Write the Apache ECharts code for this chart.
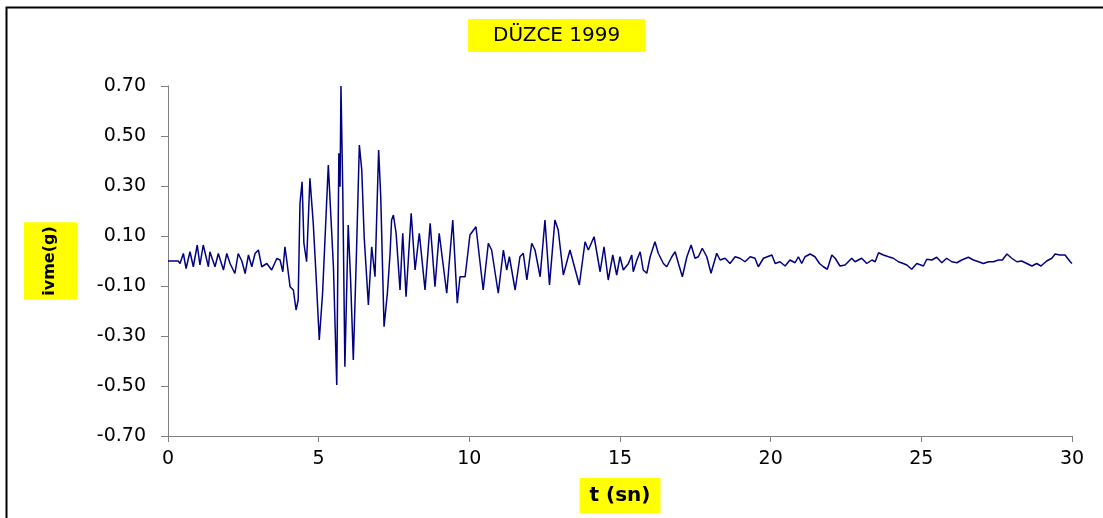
<!DOCTYPE html>
<html>
<head>
<meta charset="utf-8">
<script src="https://cdn.jsdelivr.net/npm/echarts@6/dist/echarts.min.js"></script>
<style>
  html, body { margin: 0; padding: 0; background: #fff; }
  #main { width: 1103px; height: 518px; }
</style>
</head>
<body>
<div id="main"></div>
<script>
// zaman (sn)
var times = [
  0.00, 0.34, 0.40, 0.51, 0.60, 0.73, 0.84, 0.97, 1.06, 1.17, 1.34, 1.39, 1.56, 1.67, 1.84, 1.95,
  2.06, 2.22, 2.33, 2.45, 2.56, 2.67, 2.78, 2.89, 3.00, 3.11, 3.28, 3.44, 3.61,
  3.72, 3.81, 3.88, 3.94, 4.05, 4.16, 4.25, 4.32, 4.38, 4.45, 4.51, 4.60, 4.71, 4.82, 4.91,
  5.02, 5.13, 5.32, 5.40, 5.49, 5.60, 5.67, 5.71, 5.74, 5.80, 5.87, 5.98, 6.06, 6.15, 6.26,
  6.35, 6.43, 6.51, 6.65, 6.76, 6.87, 6.99, 7.06, 7.17, 7.28, 7.37,
  7.42, 7.48, 7.57, 7.70, 7.79, 7.90, 8.07, 8.20, 8.34, 8.53, 8.70, 8.86, 9.00, 9.25, 9.45,
  9.60, 9.69, 9.86, 10.02, 10.22, 10.46, 10.63, 10.74, 10.96,
  11.13, 11.24, 11.33, 11.52, 11.68, 11.79, 11.91, 12.07, 12.18, 12.35, 12.51, 12.66, 12.84,
  12.95, 13.12, 13.34, 13.65, 13.84, 13.95, 14.14, 14.34, 14.47, 14.61, 14.76, 14.89, 15.00, 15.11,
  15.28, 15.39, 15.44, 15.56, 15.67, 15.77, 15.89, 16.00, 16.16, 16.27, 16.44, 16.55, 16.72,
  16.83, 16.94, 17.07, 17.22, 17.36, 17.49, 17.60, 17.73, 17.88, 18.02, 18.21, 18.32, 18.49,
  18.65, 18.82, 18.98, 19.15, 19.32, 19.48, 19.59, 19.76, 20.04,
  20.15, 20.31, 20.48, 20.64, 20.81, 20.92, 21.03, 21.14, 21.31, 21.47, 21.62, 21.75, 21.88,
  22.03, 22.14, 22.30, 22.47, 22.69, 22.80, 22.91, 23.02, 23.19, 23.36, 23.47, 23.58, 23.74,
  23.91, 24.07, 24.24, 24.40, 24.52, 24.68, 24.85,
  25.07, 25.18, 25.35, 25.51, 25.68, 25.84, 26.01, 26.18, 26.34, 26.56, 26.73, 26.90, 27.06,
  27.23, 27.39, 27.56, 27.69, 27.84, 28.00, 28.17, 28.33, 28.50, 28.67, 28.83, 28.97, 29.16,
  29.33, 29.44, 29.60, 29.77, 29.94, 30.00
];

// ivme (g)
var ivme = [
  0.000, 0.000, -0.010, 0.030, -0.030, 0.037, -0.023, 0.064, -0.016, 0.064, -0.023, 0.037, -0.023, 0.030, -0.036, 0.030,
  -0.010, -0.050, 0.030, 0.000, -0.050, 0.024, -0.023, 0.030, 0.044, -0.023, -0.010, -0.036, 0.010,
  0.004, -0.043, 0.057, 0.004, -0.103, -0.116, -0.196, -0.156, 0.231, 0.317, 0.071, -0.003, 0.331, 0.151, -0.049,
  -0.316, -0.129, 0.384, 0.191, -0.023, -0.496, 0.431, 0.297, 0.700, 0.284, -0.423, 0.144, -0.076, -0.396, 0.057,
  0.464, 0.364, 0.097, -0.176, 0.057, -0.063, 0.444, 0.257, -0.263, -0.129, 0.031,
  0.164, 0.184, 0.111, -0.116, 0.111, -0.143, 0.191, -0.036, 0.111, -0.116, 0.151, -0.103, 0.111, -0.129, 0.164,
  -0.169, -0.063, -0.063, 0.104, 0.137, -0.116, 0.071, 0.044, -0.129,
  0.044, -0.036, 0.017, -0.116, 0.017, 0.031, -0.076, 0.071, 0.044, -0.063, 0.164, -0.096, 0.164,
  0.124, -0.056, 0.044, -0.096, 0.077, 0.044, 0.097, -0.043, 0.057, -0.076, 0.024, -0.056, 0.017, -0.036,
  -0.010, 0.024, -0.043, 0.004, 0.037, -0.036, -0.049, 0.017, 0.077, 0.031, -0.010, -0.023, 0.017,
  0.037, -0.010, -0.063, 0.017, 0.064, 0.011, 0.017, 0.051, 0.017, -0.049, 0.031, 0.004, 0.011,
  -0.010, 0.017, 0.011, -0.003, 0.017, 0.011, -0.023, 0.011, 0.024,
  -0.010, -0.003, -0.020, 0.004, -0.007, 0.017, -0.010, 0.017, 0.028, 0.017, -0.010, -0.023, -0.033,
  0.024, 0.011, -0.020, -0.016, 0.011, -0.003, 0.004, 0.011, -0.010, 0.004, -0.003, 0.033, 0.024,
  0.017, 0.011, -0.003, -0.010, -0.016, -0.033, -0.010,
  -0.020, 0.007, 0.004, 0.015, -0.007, 0.011, -0.003, -0.007, 0.004, 0.015, 0.004, -0.003, -0.010,
  -0.003, -0.003, 0.004, 0.004, 0.028, 0.011, -0.003, 0.000, -0.010, -0.020, -0.010, -0.020, 0.000,
  0.011, 0.028, 0.024, 0.024, -0.003, -0.010
];

// eksen etiketleri
var yTicks = [-0.7, -0.5, -0.3, -0.1, 0.1, 0.3, 0.5, 0.7];
var xTicks = [0, 5, 10, 15, 20, 25, 30];

var seriesData = times.map(function (t, i) { return [t, ivme[i]]; });

var myChart = echarts.init(document.getElementById('main'), null, { renderer: 'canvas' });

var axisGray = '#808080';

var option = {
    animation: false,
    backgroundColor: '#fff',
    title: {
        text: 'DÜZCE 1999',
        left: 468,
        top: 19,
        padding: [7, 25, 6, 25],
        backgroundColor: '#ffff00',
        textStyle: {
            fontFamily: 'DejaVu Sans',
            fontWeight: 'normal',
            fontSize: 20,
            color: '#000'
        }
    },
    graphic: [{
        type: 'rect',
        shape: { x: 6.5, y: 7.5, width: 1200, height: 600 },
        style: { fill: 'none', stroke: '#000', lineWidth: 2 },
        silent: true
    }],
    grid: {
        left: 168,
        right: 31,
        top: 86,
        bottom: 82,
        containLabel: false,
        outerBoundsMode: 'none'
    },
    xAxis: {
        type: 'value',
        min: xTicks[0],
        max: xTicks[xTicks.length - 1],
        interval: 5,
        name: 't (sn)',
        nameLocation: 'middle',
        nameGap: 42,
        nameTextStyle: {
            fontFamily: 'DejaVu Sans',
            fontWeight: 'bold',
            fontSize: 20,
            color: '#000',
            backgroundColor: '#ffff00',
            padding: [8, 10, 7, 10]
        },
        axisLine: { onZero: false, lineStyle: { color: axisGray, width: 1 } },
        axisTick: { length: 6, lineStyle: { color: axisGray } },
        splitLine: { show: false },
        axisLabel: {
            margin: 14,
            fontFamily: 'DejaVu Sans',
            fontSize: 19,
            color: '#000'
        }
    },
    yAxis: {
        type: 'value',
        min: yTicks[0],
        max: yTicks[yTicks.length - 1],
        interval: 0.2,
        name: 'ivme(g)',
        nameLocation: 'middle',
        nameRotate: 90,
        nameGap: 91,
        nameTextStyle: {
            fontFamily: 'DejaVu Sans',
            fontWeight: 'bold',
            fontSize: 16,
            lineHeight: 16,
            color: '#000',
            backgroundColor: '#ffff00',
            padding: [18, 4, 19, 4]
        },
        axisLine: { show: true, onZero: false, lineStyle: { color: axisGray, width: 1 } },
        axisTick: { show: true, length: 7, customValues: yTicks, lineStyle: { color: axisGray } },
        splitLine: { show: false },
        axisLabel: {
            customValues: yTicks,
            margin: 22,
            fontFamily: 'DejaVu Sans',
            fontSize: 19,
            color: '#000',
            formatter: function (v) { return v.toFixed(2); }
        }
    },
    series: [{
        type: 'line',
        data: seriesData,
        showSymbol: false,
        symbol: 'none',
        lineStyle: { color: '#000080', width: 1.5 },
        clip: false
    }]
};

myChart.setOption(option);
window.addEventListener('resize', function () {
    myChart.resize();
});
</script>
</body>
</html>
